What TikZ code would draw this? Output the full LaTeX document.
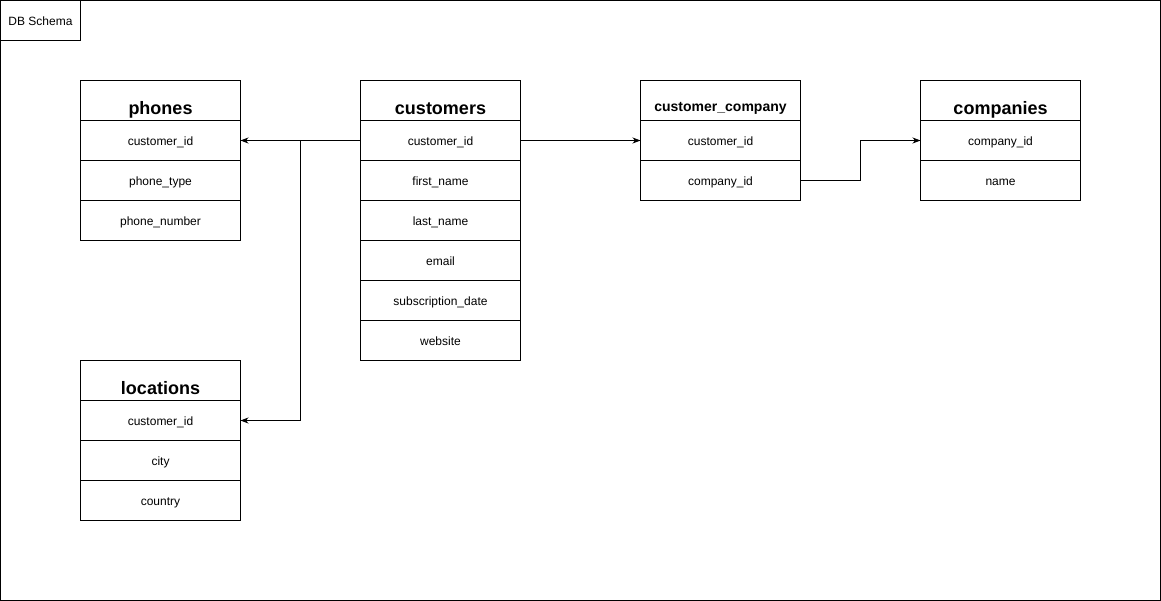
\documentclass[tikz,border=0pt]{standalone}
\usepackage{fontspec}
\setmainfont{Liberation Sans}
\usetikzlibrary{arrows.meta}
\begin{document}
\begin{tikzpicture}[x=1pt,y=-1pt,
  cell/.style={draw=black,line width=0.8pt,minimum width=160pt,minimum height=40pt,inner sep=0pt,outer sep=0pt,text height=10.6pt,text depth=0pt,font=\fontsize{12}{14}\selectfont,anchor=north west},
  hdrtxt/.style={inner sep=0pt,font=\fontsize{18}{20}\selectfont\bfseries,anchor=base},
  link/.style={draw=black,line width=0.8pt,-{Stealth[length=8pt,width=6pt,inset=2.5pt]}},
  plain/.style={draw=black,line width=0.8pt}]
\useasboundingbox (0,0) rectangle (1161,601);
\draw[plain] (0.5,0.5) rectangle (1160.5,600.5);
\node[cell,minimum width=80pt] (title) at (0.5,0.5) {DB Schema};
% phones
\node[cell] (phB) at (80.5,80.5) {};
\node[hdrtxt] (phH) at (160.5,114.8) {phones};
\node[cell] (ph1) at (80.5,120.5) {customer\_id};
\node[cell] (ph2) at (80.5,160.5) {phone\_type};
\node[cell] (ph3) at (80.5,200.5) {phone\_number};
% customers
\node[cell] (cuB) at (360.5,80.5) {};
\node[hdrtxt] (cuH) at (440.5,114.8) {customers};
\node[cell] (cu1) at (360.5,120.5) {customer\_id};
\node[cell] (cu2) at (360.5,160.5) {first\_name};
\node[cell] (cu3) at (360.5,200.5) {last\_name};
\node[cell] (cu4) at (360.5,240.5) {email};
\node[cell] (cu5) at (360.5,280.5) {subscription\_date};
\node[cell] (cu6) at (360.5,320.5) {website};
% customer_company
\node[cell] (ccB) at (640.5,80.5) {};
\node[hdrtxt,font=\fontsize{14}{16}\selectfont\bfseries] (ccH) at (720.5,112) {customer\_company};
\node[cell] (cc1) at (640.5,120.5) {customer\_id};
\node[cell] (cc2) at (640.5,160.5) {company\_id};
% companies
\node[cell] (coB) at (920.5,80.5) {};
\node[hdrtxt] (coH) at (1000.5,114.8) {companies};
\node[cell] (co1) at (920.5,120.5) {company\_id};
\node[cell] (co2) at (920.5,160.5) {name};
% locations
\node[cell] (loB) at (80.5,360.5) {};
\node[hdrtxt] (loH) at (160.5,394.8) {locations};
\node[cell] (lo1) at (80.5,400.5) {customer\_id};
\node[cell] (lo2) at (80.5,440.5) {city};
\node[cell] (lo3) at (80.5,480.5) {country};
% connectors
\coordinate (j) at (300.5,140.5);
\draw[link] (cu1.west) -- (ph1.east);
\draw[link] (j) |- (lo1.east);
\draw[link] (cu1.east) -- (cc1.west);
\draw[link] (cc2.east) -- ++(60,0) |- (co1.west);
\end{tikzpicture}
\end{document}
